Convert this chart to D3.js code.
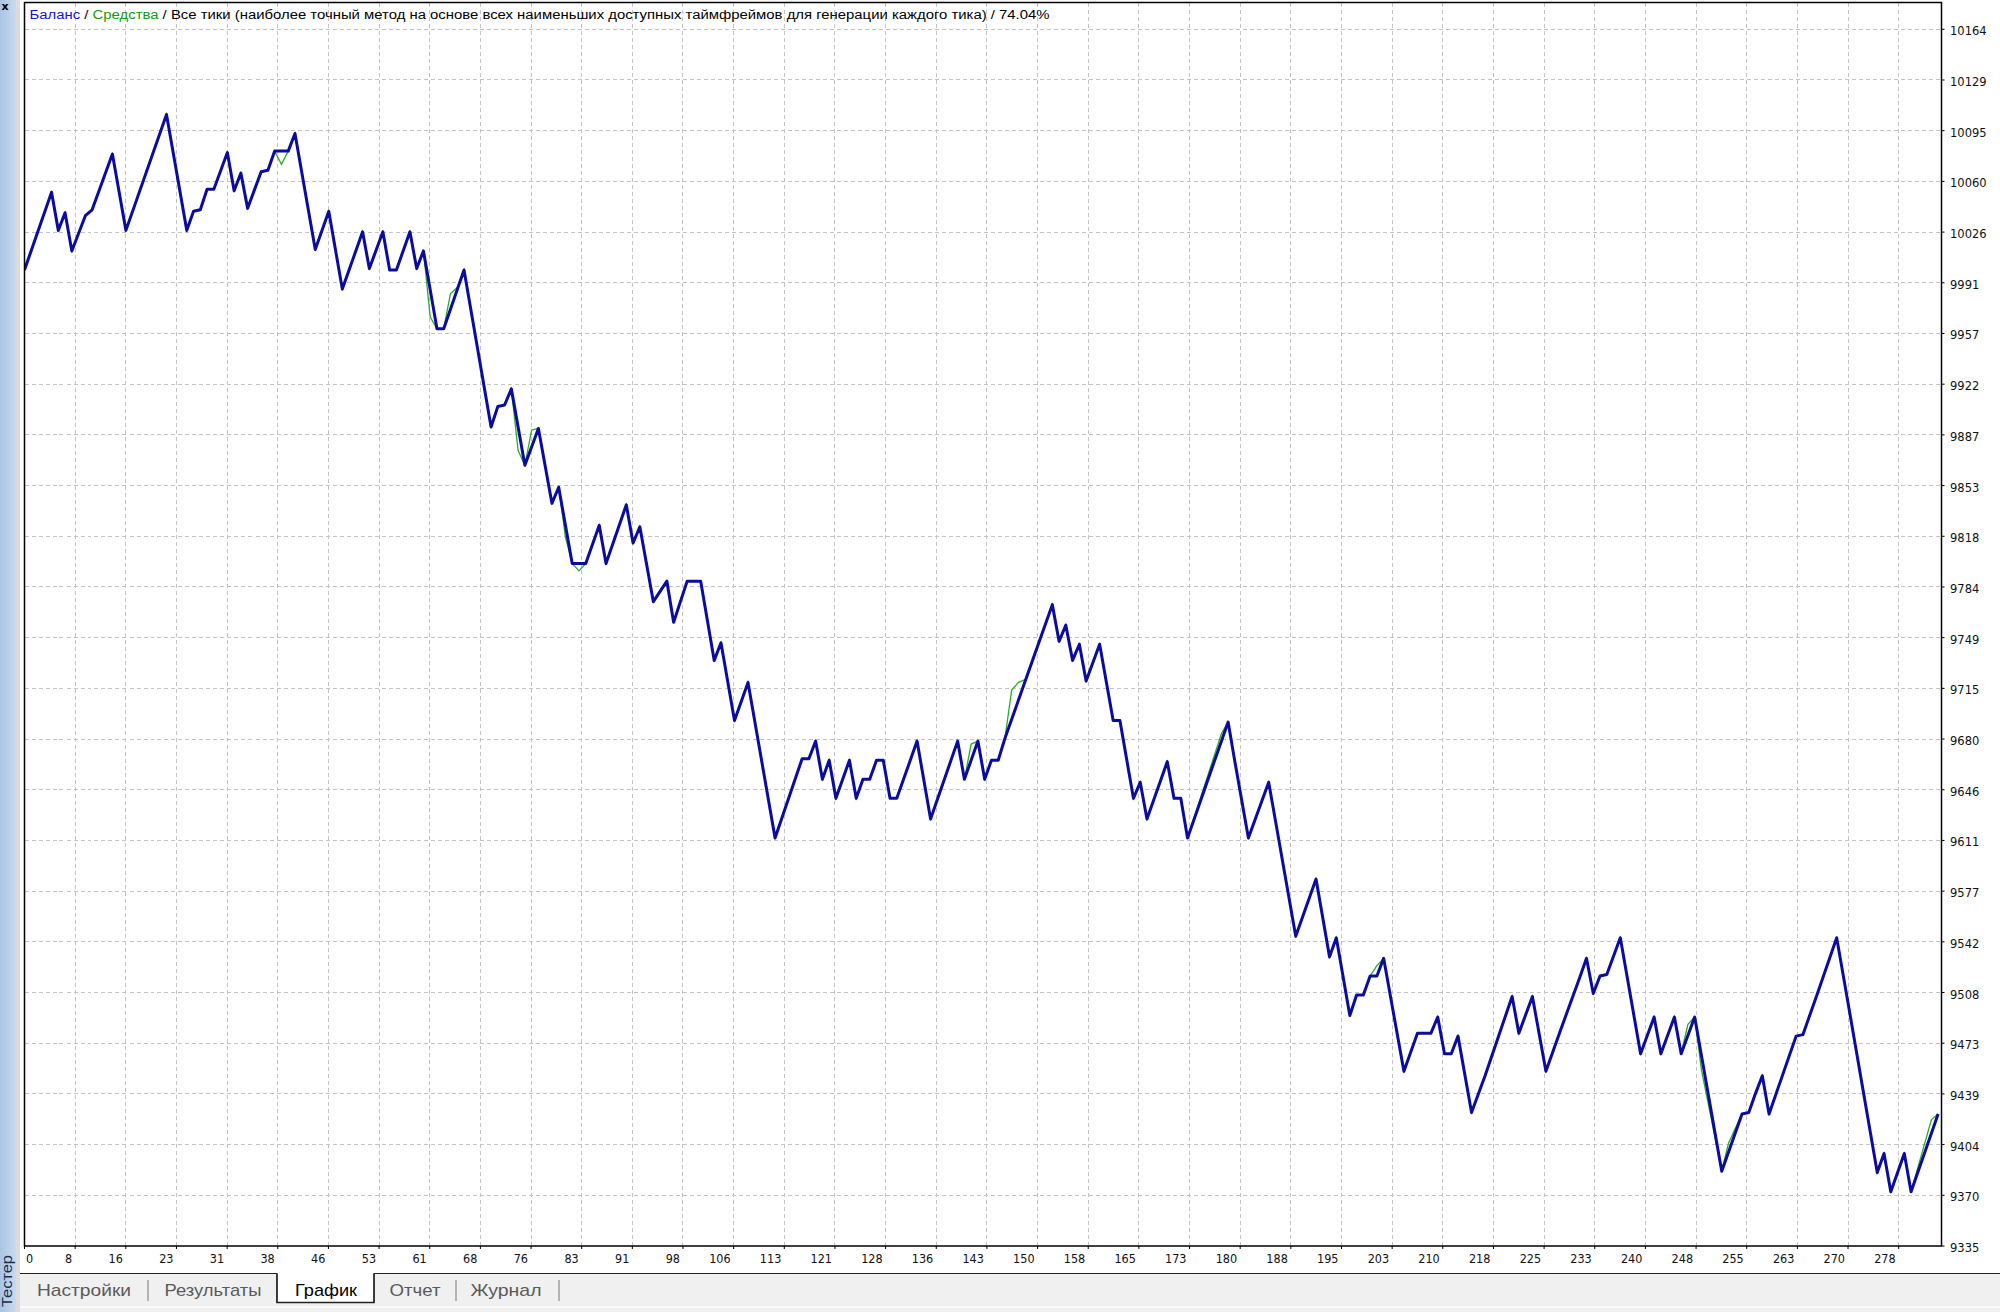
<!DOCTYPE html>
<html><head><meta charset="utf-8">
<script src="https://cdn.jsdelivr.net/npm/d3@7"></script>
<style>html,body{margin:0;padding:0;background:#fff;overflow:hidden}</style>
</head><body>
<svg id="c" width="2000" height="1312" xmlns="http://www.w3.org/2000/svg"></svg>
<script>
// ---- data (balance polyline vertices: trade number -> balance) ----
const balanceTrade = [0,4,5,6,7,9,10,13,15,21,24,25,26,27,28,30,31,32,33,35,36,37,39,40,43,45,47,50,51,53,54,55,57,58,59,61,62,65,69,70,71,72,74,76,78,79,81,83,85,86,89,90,91,93,95,96,98,100,102,103,105,107,111,115,116,117,118,119,120,122,123,124,125,126,127,128,129,130,132,134,138,139,141,142,143,144,145,152,153,154,155,156,157,159,161,162,164,165,166,169,170,171,172,178,179,181,184,188,191,193,194,196,197,198,199,200,201,204,206,208,209,210,211,212,214,216,220,221,223,225,227,230,231,232,233,234,236,239,241,242,244,245,247,251,254,255,256,257,258,262,263,265,268,270,274,275,276,278,279,283];
const balanceValue = [10000,10053,10027,10039,10013,10037,10041,10079,10027,10106,10027,10040,10041,10055,10055,10080,10054,10066,10042,10067,10068,10081,10081,10093,10014,10040,9987,10026,10001,10026,10000,10000,10026,10001,10013,9960,9960,10000,9893,9907,9908,9919,9867,9892,9841,9852,9800,9800,9826,9800,9840,9814,9825,9774,9788,9760,9788,9788,9734,9746,9693,9719,9613,9667,9667,9679,9653,9666,9640,9666,9640,9653,9653,9666,9666,9640,9640,9653,9679,9626,9679,9653,9679,9653,9666,9666,9681,9772,9747,9758,9734,9745,9720,9745,9693,9693,9640,9651,9626,9665,9640,9640,9613,9692,9665,9613,9651,9546,9585,9532,9545,9492,9506,9506,9519,9519,9531,9454,9480,9480,9491,9466,9466,9478,9426,9451,9505,9480,9505,9454,9480,9518,9531,9507,9519,9520,9545,9466,9491,9466,9491,9466,9491,9386,9425,9426,9439,9451,9425,9478,9479,9505,9545,9492,9385,9398,9372,9398,9372,9425];
// equity polyline vertices (coincides with balance except where it deviates)
const equityTrade = [0,4,5,6,7,9,10,13,15,21,24,25,26,27,28,30,31,32,33,35,36,37,38,39,40,43,45,47,50,51,53,54,55,57,58,59,60,61,62,63,64,65,69,70,71,72,73,74,75,76,78,79,80,81,82,83,85,86,89,90,91,93,95,96,98,100,102,103,105,107,111,115,116,117,118,119,120,122,123,124,125,126,127,128,129,130,132,134,138,139,140,141,142,143,144,145,146,147,148,152,153,154,155,156,157,159,161,162,164,165,166,169,170,171,172,177,178,179,181,184,188,191,193,194,196,197,198,199,200,201,204,206,208,209,210,211,212,214,216,220,221,223,225,227,230,231,232,233,234,236,239,241,242,244,245,246,247,248,251,252,254,255,256,257,258,262,263,265,268,270,274,275,276,278,279,282,283];
const equityValue = [10000,10053,10027,10039,10013,10037,10041,10079,10027,10106,10027,10040,10041,10055,10055,10080,10054,10066,10042,10067,10068,10081,10072,10081,10093,10014,10040,9987,10026,10001,10026,10000,10000,10026,10001,10013,9968,9960,9960,9984,9988,10000,9893,9907,9908,9919,9877,9867,9891,9892,9841,9852,9818,9800,9795,9800,9826,9800,9840,9814,9825,9774,9788,9760,9788,9788,9734,9746,9693,9719,9613,9667,9667,9679,9653,9666,9640,9666,9640,9653,9653,9666,9666,9640,9640,9653,9679,9626,9679,9653,9677,9679,9653,9666,9666,9681,9714,9719,9721,9772,9747,9758,9734,9745,9720,9745,9693,9693,9640,9651,9626,9665,9640,9640,9613,9684,9692,9665,9613,9651,9546,9585,9532,9545,9492,9506,9506,9519,9526,9531,9454,9480,9480,9491,9466,9466,9478,9426,9451,9505,9480,9505,9454,9480,9518,9531,9507,9519,9520,9545,9466,9491,9466,9491,9466,9486,9491,9455,9386,9405,9425,9426,9439,9451,9425,9478,9479,9505,9545,9492,9385,9398,9372,9398,9372,9421,9425];
const xTickLabels = [0,8,16,23,31,38,46,53,61,68,76,83,91,98,106,113,121,128,136,143,150,158,165,173,180,188,195,203,210,218,225,233,240,248,255,263,270,278];
const yTickLabels = [10164,10129,10095,10060,10026,9991,9957,9922,9887,9853,9818,9784,9749,9715,9680,9646,9611,9577,9542,9508,9473,9439,9404,9370,9335];
const headerParts = [
  {t:"Баланс", c:"#1414c8"},
  {t:" / ", c:"#000"},
  {t:"Средства", c:"#129a12"},
  {t:" / Все тики (наиболее точный метод на основе всех наименьших доступных таймфреймов для генерации каждого тика) / 74.04%", c:"#000"}
];
const tabLabels = ["Настройки","Результаты","График","Отчет","Журнал"];
const activeTab = "График";

// ---- layout ----
const L = 24.5, R = 1941.5, T = 2.5, B = 1246;
const tradesPerGrid = 7.491;
const svg = d3.select("#c");
const x = d3.scaleLinear().domain([0, 283.5]).range([L, R]);
const y = d3.scaleLinear().domain([yTickLabels[yTickLabels.length-1], yTickLabels[0]]).range([B, 29.3]);

svg.append("rect").attr("width",2000).attr("height",1312).attr("fill","#fff");

// grid
const g = svg.append("g").attr("stroke","#c4c4c4").attr("stroke-width",1).attr("stroke-dasharray","4,3").attr("shape-rendering","crispEdges");
const nY = yTickLabels.length - 1;
const yMin = yTickLabels[nY], yMax = yTickLabels[0];
const yPos = j => y(yMax - j*(yMax - yMin)/nY);
yTickLabels.forEach((lab,j) => {
  if (j === nY) return;
  g.append("line").attr("x1",L).attr("x2",R).attr("y1",yPos(j)).attr("y2",yPos(j));
});
xTickLabels.forEach((lab,k) => {
  if (k === 0) return;
  const px = x(k*tradesPerGrid);
  g.append("line").attr("x1",px).attr("x2",px).attr("y1",T).attr("y2",B);
});

// clip
svg.append("clipPath").attr("id","clip").append("rect").attr("x",L).attr("y",T).attr("width",R-L).attr("height",B-T);

const line = d3.line().x(d=>x(d[0])).y(d=>y(d[1]));
svg.append("path").datum(d3.zip(equityTrade, equityValue)).attr("d",line)
  .attr("fill","none").attr("stroke","#2aaa2a").attr("stroke-width",1.3).attr("clip-path","url(#clip)");
svg.append("path").datum(d3.zip(balanceTrade, balanceValue)).attr("d",line)
  .attr("fill","none").attr("stroke","#0b0b9e").attr("stroke-width",3).attr("stroke-linejoin","round").attr("clip-path","url(#clip)");

// frame
svg.append("rect").attr("x",L).attr("y",T).attr("width",R-L).attr("height",B-T)
  .attr("fill","none").attr("stroke","#000").attr("stroke-width",1.5);

// right axis labels + ticks
const ya = svg.append("g");
yTickLabels.forEach((lab,j) => {
  const py = yPos(j);
  ya.append("line").attr("x1",R).attr("x2",R+3).attr("y1",py).attr("y2",py).attr("stroke","#000").attr("stroke-width",1);
  ya.append("text").attr("x",1950).attr("y",py+6).text(lab)
    .attr("font-family","'DejaVu Sans', Verdana, sans-serif").attr("font-size",11.5).attr("fill","#111");
});

// bottom axis labels + ticks (labels end just left of their tick, first one starts at the frame)
const xa = svg.append("g");
xTickLabels.forEach((lab,k) => {
  const px = x(k*tradesPerGrid);
  xa.append("line").attr("x1",px).attr("x2",px).attr("y1",B).attr("y2",B+3).attr("stroke","#000").attr("stroke-width",1);
  xa.append("text").attr("x", k===0 ? px+1.5 : px-3).attr("y",1263)
    .attr("text-anchor", k===0 ? "start" : "end").text(lab)
    .attr("font-family","'DejaVu Sans Condensed','Liberation Sans Narrow','Arial Narrow',sans-serif")
    .attr("font-stretch","condensed").attr("font-size",12.5).attr("fill","#111");
});

// header
const ht = svg.append("text").attr("x",29.5).attr("y",19)
  .attr("font-family","'Liberation Sans', Arial, sans-serif").attr("font-size",12.5)
  .attr("textLength",1020).attr("lengthAdjust","spacingAndGlyphs");
headerParts.forEach(p => ht.append("tspan").attr("fill",p.c).text(p.t));

// tab bar
svg.append("rect").attr("x",0).attr("y",1273).attr("width",2000).attr("height",39).attr("fill","#f0f0f0");
svg.append("rect").attr("x",0).attr("y",1306).attr("width",2000).attr("height",2).attr("fill","#fbfbfb");
const tabPos = {"Настройки":[84,94],"Результаты":[213,97],"График":[326,62],"Отчет":[415,51],"Журнал":[506,71]};
const tabBox = [277,374];
svg.append("path").attr("d",`M20,1273.5H${tabBox[0]}V1302.5H${tabBox[1]}V1273.5H2000`)
  .attr("fill","none").attr("stroke","#222").attr("stroke-width",1.2);
svg.append("rect").attr("x",tabBox[0]+0.6).attr("y",1273).attr("width",tabBox[1]-tabBox[0]-1.2).attr("height",29).attr("fill","#fff");
svg.append("path").attr("d",`M${tabBox[0]},1273.5V1302.5H${tabBox[1]}V1273.5`).attr("fill","none").attr("stroke","#222").attr("stroke-width",1.5);
tabLabels.forEach(t => {
  const [cx,w] = tabPos[t];
  svg.append("text").attr("x",cx).attr("y",1296).attr("text-anchor","middle").text(t)
    .attr("font-family","'Liberation Sans', Arial, sans-serif").attr("font-size",17)
    .attr("textLength",w).attr("lengthAdjust","spacingAndGlyphs")
    .attr("fill", t===activeTab ? "#000" : "#5a5a5a");
});
[148,456,559].forEach(sx => svg.append("line").attr("x1",sx).attr("x2",sx).attr("y1",1280).attr("y2",1301).attr("stroke","#777").attr("stroke-width",1));

// left tester strip
const grad = svg.append("defs").append("linearGradient").attr("id","lg").attr("x1",0).attr("x2",1);
grad.append("stop").attr("offset",0).attr("stop-color","#a9c4e3");
grad.append("stop").attr("offset",1).attr("stop-color","#c9daee");
svg.append("rect").attr("x",0).attr("y",0).attr("width",16).attr("height",1312).attr("fill","url(#lg)");
svg.append("rect").attr("x",16).attr("y",0).attr("width",4).attr("height",1312).attr("fill","#dcdcdc");
svg.append("text").attr("x",5).attr("y",10).text("x").attr("font-family","'DejaVu Sans',sans-serif").attr("font-weight","bold").attr("font-size",11).attr("fill","#000").attr("text-anchor","middle");
svg.append("text").attr("transform","translate(12,1281) rotate(-90)").attr("text-anchor","middle").text("Тестер")
  .attr("font-family","'Liberation Sans', Arial, sans-serif").attr("font-size",14).attr("fill","#1c2c48")
  .attr("textLength",52).attr("lengthAdjust","spacingAndGlyphs");
</script>
</body></html>
